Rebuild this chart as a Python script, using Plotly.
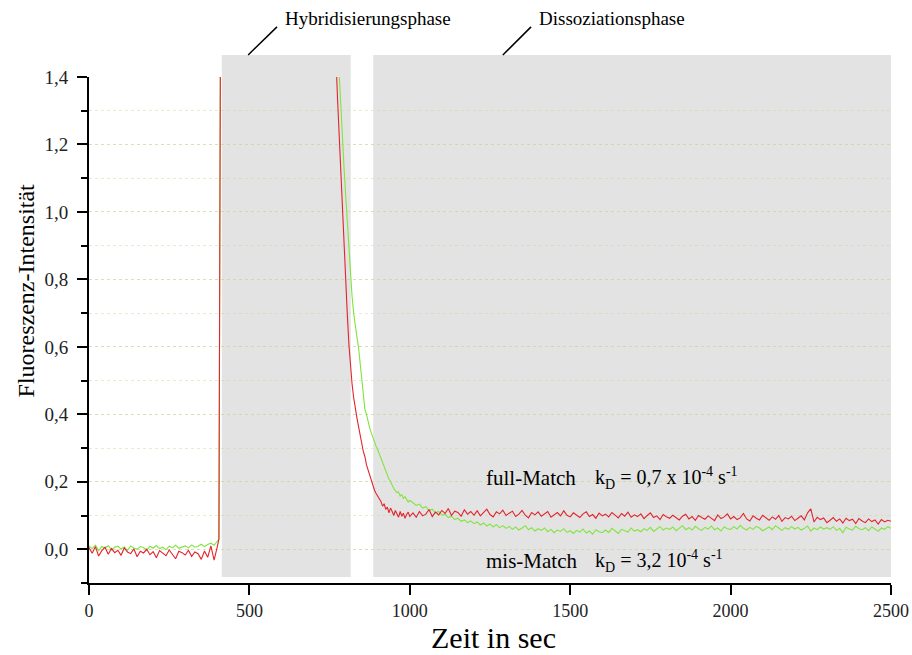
import plotly.graph_objects as go

# ---- time grid (s) ----
t_base = list(range(0, 401, 10))          # 0..400
t_jump = [405, 410, 770]
t_decay = list(range(775, 1001, 5))       # 775..1000
t_tail = list(range(1010, 2501, 10))      # 1010..2500
zeit = t_base + t_jump + t_decay + t_tail

# ---- full-Match (red) ----
red_base = [
    0.005, -0.012, 0.008, -0.020, -0.004, 0.006, -0.015, 0.002, -0.010, -0.003,
    -0.018, 0.004, -0.008, -0.013, 0.001, -0.022, -0.006, -0.011, 0.000, -0.016,
    -0.007, -0.025, -0.004, -0.012, -0.019, -0.002, -0.014, -0.028, -0.006, -0.010,
    -0.017, -0.003, -0.021, -0.008, -0.013, -0.030, -0.005, -0.024, 0.010, -0.032,
    0.008]
red_jump = [0.03, 1.6, 1.45]
red_decay = [
    1.33, 1.22, 1.10, 0.99, 0.89, 0.79, 0.70, 0.61, 0.545, 0.49,
    0.45, 0.415, 0.39, 0.365, 0.335, 0.315, 0.29, 0.275, 0.25, 0.235,
    0.215, 0.205, 0.19, 0.175, 0.165, 0.158, 0.148, 0.142, 0.128, 0.135,
    0.118, 0.125, 0.108, 0.122, 0.112, 0.100, 0.115, 0.104, 0.095, 0.112,
    0.098, 0.107, 0.092, 0.103, 0.110, 0.097]
red_tail = [
    0.108, 0.095, 0.112, 0.099, 0.104, 0.118, 0.097, 0.110, 0.102, 0.115,
    0.106, 0.121, 0.100, 0.113, 0.109, 0.098, 0.117, 0.104, 0.112, 0.101,
    0.114, 0.099, 0.108, 0.119, 0.103, 0.096, 0.111, 0.105, 0.116, 0.100,
    0.107, 0.113, 0.097, 0.104, 0.115, 0.101, 0.093, 0.109, 0.102, 0.111,
    0.098, 0.106, 0.112, 0.095, 0.103, 0.109, 0.099, 0.114, 0.101, 0.096,
    0.108, 0.100, 0.094, 0.105, 0.111, 0.097, 0.103, 0.092, 0.107, 0.099,
    0.104, 0.096, 0.109, 0.101, 0.093, 0.106, 0.098, 0.110, 0.095, 0.102,
    0.097, 0.105, 0.091, 0.100, 0.108, 0.094, 0.099, 0.088, 0.103, 0.096,
    0.092, 0.101, 0.095, 0.087, 0.098, 0.104, 0.090, 0.097, 0.086, 0.100,
    0.094, 0.089, 0.099, 0.093, 0.085, 0.102, 0.091, 0.096, 0.105, 0.090,
    0.097, 0.088, 0.093, 0.106, 0.090, 0.084, 0.099, 0.092, 0.087, 0.101,
    0.093, 0.086, 0.096, 0.089, 0.100, 0.083, 0.094, 0.090, 0.098, 0.085,
    0.092, 0.099, 0.087, 0.108, 0.120, 0.081, 0.095, 0.088, 0.093, 0.079,
    0.086, 0.094, 0.083, 0.090, 0.078, 0.092, 0.085, 0.089, 0.076, 0.091,
    0.084, 0.079, 0.090, 0.082, 0.087, 0.075, 0.088, 0.081, 0.086, 0.083]
full_match = red_base + red_jump + red_decay + red_tail

# ---- mis-Match (green) ----
green_base = [
    0.010, 0.002, 0.012, -0.004, 0.008, 0.003, 0.011, -0.002, 0.006, 0.009,
    0.001, 0.007, -0.003, 0.010, 0.004, 0.000, 0.008, 0.005, -0.002, 0.009,
    0.003, 0.011, 0.002, 0.006, -0.001, 0.009, 0.004, 0.012, 0.003, 0.007,
    0.010, 0.004, 0.013, 0.006, 0.009, 0.015, 0.008, 0.014, 0.018, 0.012,
    0.022]
green_jump = [0.03, 1.6, 1.65]
green_decay = [
    1.50, 1.40, 1.31, 1.22, 1.13, 1.05, 0.97, 0.89, 0.81, 0.75,
    0.70, 0.66, 0.63, 0.60, 0.555, 0.51, 0.46, 0.415, 0.40, 0.375,
    0.36, 0.345, 0.33, 0.318, 0.305, 0.295, 0.282, 0.27, 0.255, 0.245,
    0.23, 0.222, 0.208, 0.200, 0.188, 0.180, 0.174, 0.168, 0.170, 0.158,
    0.162, 0.150, 0.156, 0.148, 0.140, 0.145]
green_tail = [
    0.138, 0.130, 0.134, 0.122, 0.126, 0.115, 0.119, 0.108, 0.112, 0.101,
    0.104, 0.094, 0.098, 0.088, 0.092, 0.083, 0.087, 0.079, 0.084, 0.076,
    0.081, 0.072, 0.078, 0.069, 0.075, 0.066, 0.073, 0.064, 0.070, 0.062,
    0.068, 0.059, 0.066, 0.057, 0.063, 0.070, 0.058, 0.064, 0.054, 0.061,
    0.056, 0.063, 0.052, 0.059, 0.049, 0.057, 0.053, 0.061, 0.050, 0.055,
    0.047, 0.056, 0.051, 0.060, 0.048, 0.054, 0.045, 0.058, 0.052, 0.049,
    0.057, 0.050, 0.062, 0.053, 0.047, 0.059, 0.055, 0.051, 0.063, 0.054,
    0.058, 0.052, 0.061, 0.056, 0.065, 0.053, 0.060, 0.067, 0.057, 0.063,
    0.059, 0.066, 0.055, 0.062, 0.070, 0.058, 0.064, 0.057, 0.068, 0.061,
    0.056, 0.065, 0.060, 0.069, 0.058, 0.063, 0.054, 0.066, 0.061, 0.059,
    0.067, 0.060, 0.071, 0.062, 0.057, 0.065, 0.059, 0.068, 0.063, 0.055,
    0.061, 0.066, 0.058, 0.070, 0.063, 0.056, 0.064, 0.059, 0.067, 0.060,
    0.065, 0.057, 0.062, 0.069, 0.054, 0.063, 0.058, 0.066, 0.060, 0.064,
    0.059, 0.067, 0.056, 0.062, 0.049, 0.065, 0.060, 0.057, 0.068, 0.061,
    0.058, 0.064, 0.055, 0.066, 0.060, 0.053, 0.063, 0.059, 0.067, 0.062]
mis_match = green_base + green_jump + green_decay + green_tail

assert len(zeit) == len(full_match) == len(mis_match), (len(zeit), len(full_match), len(mis_match))

# ---- phases & axis labels ----
hyb_phase = [414, 816]
dis_phase = [886, 2500]
x_ticks = [0, 500, 1000, 1500, 2000, 2500]
x_ticktext = ["0", "500", "1000", "1500", "2000", "2500"]
y_ticks = [0.0, 0.2, 0.4, 0.6, 0.8, 1.0, 1.2, 1.4]
y_ticktext = ["0,0", "0,2", "0,4", "0,6", "0,8", "1,0", "1,2", "1,4"]

FONT = "Liberation Serif"
GREY = "#e3e3e3"
GRID = "rgba(200,212,150,0.45)"

fig = go.Figure()
fig.add_trace(go.Scatter(x=zeit, y=mis_match, mode="lines", name="mis-Match",
                         line=dict(color="rgb(128,228,62)", width=1.1)))
fig.add_trace(go.Scatter(x=zeit, y=full_match, mode="lines", name="full-Match",
                         line=dict(color="rgb(226,36,46)", width=1.1)))

for x0, x1 in (hyb_phase, dis_phase):
    fig.add_shape(type="rect", xref="x", yref="paper", x0=x0, x1=x1,
                  y0=0.012, y1=1.0435, fillcolor=GREY, line=dict(width=0),
                  layer="below")

# slanted pointer lines for phase labels
fig.add_shape(type="line", xref="x", yref="paper", x0=496, y0=1.0435, x1=586, y1=1.099,
              line=dict(color="black", width=1.5))
fig.add_shape(type="line", xref="x", yref="paper", x0=1290, y0=1.0435, x1=1378, y1=1.099,
              line=dict(color="black", width=1.5))

fig.add_annotation(x=605, y=1.116, xref="x", yref="paper", xanchor="left", yanchor="middle",
                   text="Hybridisierungsphase", showarrow=False,
                   font=dict(family=FONT, size=19, color="black"))
fig.add_annotation(x=1396, y=1.116, xref="x", yref="paper", xanchor="left", yanchor="middle",
                   text="Dissoziationsphase", showarrow=False,
                   font=dict(family=FONT, size=19, color="black"))

fig.add_annotation(x=1231, y=0.21, xref="x", yref="y", xanchor="left", yanchor="middle",
                   text="full-Match", showarrow=False,
                   font=dict(family=FONT, size=21, color="black"))
fig.add_annotation(x=1571, y=0.21, xref="x", yref="y", xanchor="left", yanchor="middle",
                   text="k<sub>D</sub> = 0,7 x 10<sup>-4</sup> s<sup>-1</sup>", showarrow=False,
                   font=dict(family=FONT, size=20, color="black"))
fig.add_annotation(x=1231, y=-0.034, xref="x", yref="y", xanchor="left", yanchor="middle",
                   text="mis-Match", showarrow=False,
                   font=dict(family=FONT, size=21, color="black"))
fig.add_annotation(x=1571, y=-0.034, xref="x", yref="y", xanchor="left", yanchor="middle",
                   text="k<sub>D</sub> = 3,2 10<sup>-4</sup> s<sup>-1</sup>", showarrow=False,
                   font=dict(family=FONT, size=20, color="black"))

# axis titles
fig.add_annotation(x=-0.078, y=0.579, xref="paper", yref="paper", xanchor="center", yanchor="middle",
                   text="Fluoreszenz-Intensität", textangle=-90, showarrow=False,
                   font=dict(family=FONT, size=24, color="black"))
fig.add_annotation(x=0.504, y=-0.107, xref="paper", yref="paper", xanchor="center", yanchor="middle",
                   text="Zeit in sec", showarrow=False,
                   font=dict(family=FONT, size=30, color="black"))

fig.update_layout(
    width=912, height=655,
    margin=dict(l=89, r=21, t=77, b=72),
    paper_bgcolor="white", plot_bgcolor="white",
    showlegend=False,
    font=dict(family=FONT, size=18, color="black"),
)
fig.update_xaxes(
    range=[0, 2500], tickvals=x_ticks, ticktext=x_ticktext,
    showgrid=False, zeroline=False, automargin=False,
    showline=True, linecolor="black", linewidth=2,
    ticks="outside", ticklen=10, tickwidth=2, tickcolor="black",
    ticklabeloverflow="allow",
    tickfont=dict(family=FONT, size=18, color="#222"),
)
fig.update_yaxes(
    range=[-0.1, 1.4], tickvals=y_ticks, ticktext=y_ticktext,
    showgrid=True, gridcolor=GRID, griddash="dot", gridwidth=1,
    zeroline=False, automargin=False,
    showline=True, linecolor="black", linewidth=2,
    ticks="outside", ticklen=10, tickwidth=2, tickcolor="black",
    ticklabelstandoff=5,
    tickfont=dict(family=FONT, size=19, color="#222"),
    minor=dict(dtick=0.1, tick0=0, ticks="outside", ticklen=6, tickwidth=2,
               tickcolor="black", showgrid=True, gridcolor=GRID, griddash="dot", gridwidth=1),
)

# remove the browser's default 8 px body margin so the 912x655 figure fills the window
fig.write_html("out.html",
               config={"displayModeBar": False},
               post_script="document.body.style.margin='0px';document.body.style.overflow='hidden';")
